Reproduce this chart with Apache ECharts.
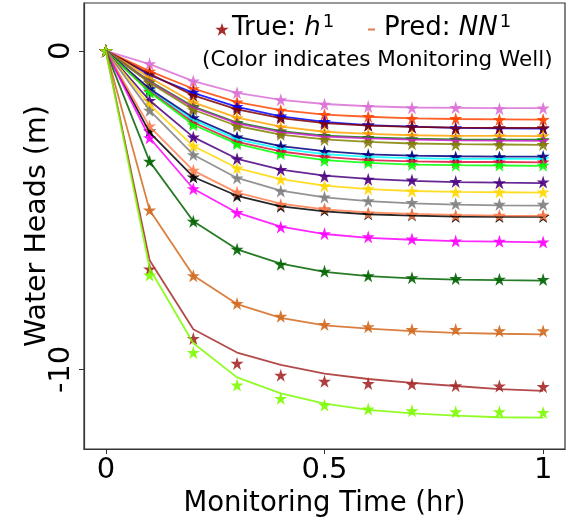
<!DOCTYPE html>
<html>
<head>
<meta charset="utf-8">
<script src="https://cdn.jsdelivr.net/npm/echarts@6/dist/echarts.min.js"></script>
<style>html,body{margin:0;padding:0;background:#fff}#c{width:575px;height:523px}</style>
</head>
<body>
<div id="c"></div>
<script>
const times = [0, 0.1, 0.2, 0.3, 0.4, 0.5, 0.6, 0.7, 0.8, 0.9, 1.0];
const xTickValues = [0, 0.5, 1];
const yTickValues = [-10, 0];

const trueOrchid = [0, -0.41, -0.95, -1.32, -1.54, -1.68, -1.75, -1.79, -1.78, -1.82, -1.80];
const predOrchid = [0, -0.42, -0.95, -1.32, -1.54, -1.67, -1.74, -1.78, -1.79, -1.80, -1.80];
const trueOrangered = [0, -0.64, -1.19, -1.61, -1.87, -2.00, -2.06, -2.13, -2.13, -2.16, -2.16];
const predOrangered = [0, -0.64, -1.19, -1.61, -1.86, -2.00, -2.07, -2.12, -2.14, -2.15, -2.16];
const trueMaroon = [0, -0.72, -1.40, -1.84, -2.11, -2.29, -2.34, -2.39, -2.45, -2.42, -2.42];
const predMaroon = [0, -0.72, -1.40, -1.84, -2.11, -2.27, -2.35, -2.39, -2.41, -2.42, -2.42];
const trueBlue = [0, -0.75, -1.30, -1.75, -2.05, -2.22, -2.32, -2.38, -2.42, -2.43, -2.44];
const predBlue = [0, -0.76, -1.32, -1.76, -2.06, -2.23, -2.33, -2.38, -2.42, -2.43, -2.44];
const trueOrange = [0, -0.83, -1.63, -2.10, -2.39, -2.55, -2.60, -2.65, -2.69, -2.67, -2.67];
const predOrange = [0, -0.84, -1.62, -2.10, -2.38, -2.54, -2.61, -2.65, -2.67, -2.67, -2.68];
const trueGreen = [0, -0.95, -1.75, -2.25, -2.52, -2.66, -2.72, -2.76, -2.78, -2.79, -2.79];
const predGreen = [0, -0.95, -1.75, -2.25, -2.52, -2.66, -2.72, -2.76, -2.78, -2.79, -2.79];
const truePurple = [0, -0.97, -1.78, -2.28, -2.55, -2.69, -2.75, -2.79, -2.81, -2.82, -2.82];
const predPurple = [0, -0.97, -1.78, -2.28, -2.55, -2.69, -2.75, -2.79, -2.81, -2.82, -2.83];
const trueOlive = [0, -1.00, -1.85, -2.36, -2.63, -2.78, -2.86, -2.92, -2.94, -2.95, -2.94];
const predOlive = [0, -1.00, -1.85, -2.36, -2.63, -2.78, -2.86, -2.91, -2.93, -2.94, -2.95];
const trueNavy = [0, -1.19, -2.10, -2.71, -2.99, -3.16, -3.26, -3.30, -3.33, -3.33, -3.31];
const predNavy = [0, -1.19, -2.10, -2.70, -2.99, -3.15, -3.25, -3.29, -3.31, -3.32, -3.32];
const trueCyan = [0, -1.22, -2.17, -2.78, -3.07, -3.24, -3.33, -3.37, -3.39, -3.39, -3.39];
const predCyan = [0, -1.22, -2.17, -2.78, -3.07, -3.24, -3.33, -3.37, -3.39, -3.39, -3.39];
const trueCrimson = [0, -1.27, -2.25, -2.86, -3.16, -3.33, -3.43, -3.47, -3.49, -3.49, -3.49];
const predCrimson = [0, -1.27, -2.25, -2.86, -3.16, -3.33, -3.43, -3.47, -3.49, -3.49, -3.50];
const trueLime = [0, -1.30, -2.32, -2.92, -3.23, -3.44, -3.51, -3.57, -3.59, -3.59, -3.59];
const predLime = [0, -1.30, -2.32, -2.92, -3.24, -3.43, -3.52, -3.57, -3.59, -3.60, -3.61];
const trueIndigo = [0, -1.56, -2.71, -3.39, -3.73, -3.94, -4.03, -4.06, -4.10, -4.14, -4.12];
const predIndigo = [0, -1.56, -2.71, -3.39, -3.73, -3.92, -4.02, -4.08, -4.12, -4.14, -4.15];
const trueGold = [0, -1.70, -2.99, -3.68, -4.03, -4.24, -4.33, -4.40, -4.43, -4.43, -4.43];
const predGold = [0, -1.70, -2.99, -3.68, -4.03, -4.23, -4.34, -4.40, -4.43, -4.44, -4.45];
const trueGray = [0, -1.87, -3.26, -3.99, -4.40, -4.59, -4.71, -4.76, -4.80, -4.82, -4.82];
const predGray = [0, -1.87, -3.26, -3.99, -4.39, -4.60, -4.72, -4.79, -4.83, -4.85, -4.86];
const trueCoral = [0, -2.36, -3.75, -4.43, -4.82, -4.95, -5.09, -5.13, -5.16, -5.16, -5.16];
const predCoral = [0, -2.38, -3.76, -4.45, -4.80, -4.98, -5.07, -5.12, -5.15, -5.17, -5.18];
const trueBlack = [0, -2.52, -3.96, -4.55, -4.88, -5.00, -5.12, -5.15, -5.20, -5.20, -5.20];
const predBlack = [0, -2.56, -3.96, -4.55, -4.88, -5.04, -5.13, -5.17, -5.20, -5.21, -5.21];
const trueMagenta = [0, -2.73, -4.33, -5.08, -5.53, -5.74, -5.84, -5.91, -5.97, -5.98, -6.00];
const predMagenta = [0, -2.73, -4.33, -5.08, -5.52, -5.75, -5.87, -5.93, -5.97, -5.99, -6.01];
const trueDarkgreen = [0, -3.47, -5.35, -6.23, -6.70, -6.92, -7.06, -7.12, -7.15, -7.17, -7.18];
const predDarkgreen = [0, -3.47, -5.35, -6.23, -6.68, -6.94, -7.07, -7.14, -7.18, -7.20, -7.21];
const trueChocolate = [0, -5.00, -7.06, -7.93, -8.33, -8.59, -8.66, -8.75, -8.75, -8.79, -8.79];
const predChocolate = [0, -5.00, -7.05, -7.95, -8.38, -8.62, -8.72, -8.80, -8.85, -8.88, -8.90];
const trueBrown = [0, -6.85, -9.03, -9.81, -10.18, -10.37, -10.44, -10.46, -10.51, -10.52, -10.54];
const predBrown = [0, -6.57, -8.74, -9.47, -9.86, -10.13, -10.30, -10.42, -10.52, -10.62, -10.67];
const trueLawngreen = [0, -7.04, -9.47, -10.49, -10.91, -11.12, -11.24, -11.30, -11.33, -11.33, -11.35];
const predLawngreen = [0, -6.83, -9.18, -10.25, -10.75, -11.07, -11.27, -11.38, -11.45, -11.50, -11.51];

const wells = [
  ['#DA70D6', trueOrchid, predOrchid],
  ['#FF4500', trueOrangered, predOrangered],
  ['#0000FF', trueBlue, predBlue],
  ['#800000', trueMaroon, predMaroon],
  ['#FFA500', trueOrange, predOrange],
  ['#008000', trueGreen, predGreen],
  ['#CC22CC', truePurple, predPurple],
  ['#808000', trueOlive, predOlive],
  ['#00FFFF', trueCyan, predCyan],
  ['#000080', trueNavy, predNavy],
  ['#DC143C', trueCrimson, predCrimson],
  ['#00FF00', trueLime, predLime],
  ['#4B0082', trueIndigo, predIndigo],
  ['#FFD700', trueGold, predGold],
  ['#808080', trueGray, predGray],
  ['#000000', trueBlack, predBlack],
  ['#FF7F50', trueCoral, predCoral],
  ['#FF00FF', trueMagenta, predMagenta],
  ['#006400', trueDarkgreen, predDarkgreen],
  ['#D2691E', trueChocolate, predChocolate],
  ['#A52A2A', trueBrown, predBrown],
  ['#7CFC00', trueLawngreen, predLawngreen]
];

const STAR = 'path://M50,0 L61.2,34.5 L97.6,34.5 L68.2,55.9 L79.4,90.5 L50,69.1 L20.6,90.5 L31.8,55.9 L2.4,34.5 L38.8,34.5 Z';

const series = [];
wells.forEach(function (w) {
  series.push({
    type: 'scatter',
    data: times.map(function (t, i) { return [t, w[1][i]]; }),
    symbol: STAR,
    symbolSize: 13,
    itemStyle: { color: w[0], opacity: 0.9 },
    silent: true,
    z: 2
  });
  series.push({
    type: 'line',
    data: times.map(function (t, i) { return [t, w[2][i]]; }),
    showSymbol: false,
    lineStyle: { color: w[0], width: 1.8, opacity: 0.85 },
    silent: true,
    z: 3
  });
});

function starPoints(cx, cy, r) {
  const pts = [];
  for (let k = 0; k < 10; k++) {
    const rr = k % 2 === 0 ? r : r * 0.4;
    const a = -Math.PI / 2 + k * Math.PI / 5;
    pts.push([cx + rr * Math.cos(a), cy + rr * Math.sin(a)]);
  }
  return pts;
}

const chart = echarts.init(document.getElementById('c'), null, { renderer: 'canvas' });
const FONT = 'DejaVu Sans';
chart.setOption({
  animation: false,
  backgroundColor: '#fff',
  grid: { left: 84, right: 10, top: 3, bottom: 73, show: true, borderColor: '#333', borderWidth: 1.2, backgroundColor: 'transparent' },
  xAxis: {
    type: 'value', min: -0.05, max: 1.05,
    name: 'Monitoring Time (hr)', nameLocation: 'middle', nameGap: 35,
    nameTextStyle: { fontFamily: FONT, fontSize: 27.5, color: '#000' },
    axisLine: { show: true, onZero: false, lineStyle: { color: '#333', width: 1.2 } },
    axisTick: { show: true, length: 5, lineStyle: { color: '#333' }, customValues: xTickValues },
    axisLabel: { fontFamily: FONT, fontSize: 29, color: '#000', margin: 7, customValues: xTickValues,
      formatter: function (v) { return String(v); } },
    splitLine: { show: false }
  },
  yAxis: {
    type: 'value', min: -12.5, max: 1.5,
    name: 'Water Heads (m)', nameLocation: 'middle', nameGap: 32, nameMoveOverlap: false,
    nameTextStyle: { fontFamily: FONT, fontSize: 28.5, color: '#000' },
    axisLine: { show: true, onZero: false, lineStyle: { color: '#333', width: 1.2 } },
    axisTick: { show: true, length: 5, lineStyle: { color: '#333' }, customValues: yTickValues },
    axisLabel: { fontFamily: FONT, fontSize: 29, color: '#000', margin: 8, rotate: 90, customValues: yTickValues,
      formatter: function (v) { return String(v); } },
    splitLine: { show: false }
  },
  graphic: [
    { type: 'polygon', shape: { points: starPoints(222, 30, 7) }, style: { fill: '#A52A2A' }, z: 10 },
    { type: 'text', left: 232, top: 13, z: 10,
      style: { text: '{n|True: }{i|h}{s|1}', fill: '#000', rich: {
        n: { fontFamily: FONT, fontSize: 26, fill: '#000' },
        i: { fontFamily: FONT, fontSize: 26, fontStyle: 'italic', fill: '#000' },
        s: { fontFamily: FONT, fontSize: 18, fill: '#000', verticalAlign: 'top', padding: [0, 0, 12, 2] }
      } } },
    { type: 'line', shape: { x1: 368, y1: 29.5, x2: 375, y2: 29.5 }, style: { stroke: '#E07A50', lineWidth: 2 }, z: 10 },
    { type: 'text', left: 384, top: 13, z: 10,
      style: { text: '{n|Pred: }{i|NN}{s|1}', fill: '#000', rich: {
        n: { fontFamily: FONT, fontSize: 26, fill: '#000' },
        i: { fontFamily: FONT, fontSize: 26, fontStyle: 'italic', fill: '#000' },
        s: { fontFamily: FONT, fontSize: 18, fill: '#000', verticalAlign: 'top', padding: [0, 0, 12, 2] }
      } } },
    { type: 'text', left: 202, top: 49, z: 10,
      style: { text: '(Color indicates Monitoring Well)', fontFamily: FONT, fontSize: 21.5, fill: '#000' } }
  ],
  series: series
});
</script>
</body>
</html>
